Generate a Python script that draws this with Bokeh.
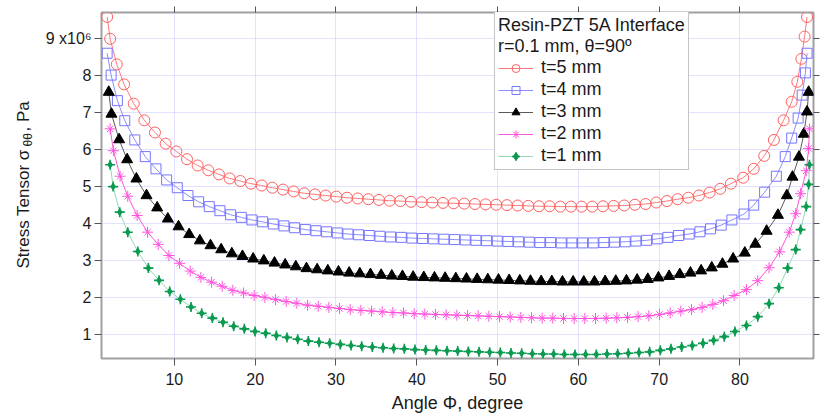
import math
from bokeh.plotting import figure
from bokeh.layouts import row
from bokeh.models import Legend, LegendItem, LinearAxis, FixedTicker, Range1d
from bokeh.core.properties import value
from bokeh.embed import file_html
from bokeh.resources import INLINE

# ---------------- data (stress in units of 1e6 Pa) ----------------
phi_t5 = [1.68, 2.05, 2.87, 3.78, 4.97,
          6.28, 7.60, 8.92, 10.24, 11.56, 12.88, 14.20, 15.52, 16.84, 18.16,
          19.48, 20.80, 22.12, 23.44, 24.76, 26.08, 27.40, 28.72, 30.04, 31.36,
          32.68, 34.00, 35.32, 36.64, 37.96, 39.28, 40.60, 41.92, 43.24, 44.56,
          45.88, 47.20, 48.52, 49.84, 51.16, 52.48, 53.80, 55.12, 56.44, 57.76,
          59.08, 60.40, 61.72, 63.04, 64.36, 65.68, 67.00, 68.32, 69.64, 70.96,
          72.28, 73.60, 74.92, 76.24, 77.56, 78.88,
          80.4, 81.7, 83.0, 84.2, 85.4, 86.4, 87.1, 87.6, 88.0, 88.3]
sig_t5 = [9.57, 8.98, 8.29, 7.75, 7.23,
          6.78, 6.45, 6.15, 5.94, 5.73, 5.56, 5.43, 5.32, 5.21, 5.14,
          5.07, 5.02, 4.96, 4.91, 4.86, 4.81, 4.78, 4.75, 4.72, 4.69,
          4.67, 4.65, 4.63, 4.61, 4.60, 4.58, 4.57, 4.56, 4.55, 4.54,
          4.53, 4.52, 4.51, 4.50, 4.49, 4.48, 4.47, 4.46, 4.46, 4.45,
          4.45, 4.45, 4.45, 4.46, 4.47, 4.48, 4.50, 4.52, 4.56, 4.60,
          4.65, 4.69, 4.75, 4.83, 4.93, 5.07,
          5.23, 5.47, 5.82, 6.25, 6.78, 7.28, 7.82, 8.44, 9.04, 9.57]

phi_t4 = [1.68, 2.17, 2.95, 3.86, 5.10,
          6.40, 7.72, 9.04, 10.36, 11.68, 13.00, 14.32, 15.64, 16.96, 18.28,
          19.60, 20.92, 22.24, 23.56, 24.88, 26.20, 27.52, 28.84, 30.16, 31.48,
          32.80, 34.12, 35.44, 36.76, 38.08, 39.40, 40.72, 42.04, 43.36, 44.68,
          46.00, 47.32, 48.64, 49.96, 51.28, 52.60, 53.92, 55.24, 56.56, 57.88,
          59.20, 60.52, 61.84, 63.16, 64.48, 65.80, 67.12, 68.44, 69.76, 71.08,
          72.40, 73.72, 75.04, 76.36, 77.68, 79.00,
          80.5, 81.7, 83.05, 84.5, 85.6, 86.4, 87.2, 87.7, 88.1, 88.3]
sig_t4 = [8.59, 8.00, 7.31, 6.77, 6.25,
          5.80, 5.47, 5.17, 4.96, 4.75, 4.58, 4.45, 4.34, 4.23, 4.16,
          4.09, 4.04, 3.98, 3.93, 3.88, 3.83, 3.80, 3.77, 3.74, 3.71,
          3.69, 3.67, 3.65, 3.63, 3.62, 3.60, 3.59, 3.58, 3.57, 3.56,
          3.55, 3.54, 3.53, 3.52, 3.51, 3.50, 3.49, 3.48, 3.48, 3.47,
          3.47, 3.47, 3.47, 3.48, 3.49, 3.50, 3.52, 3.54, 3.58, 3.62,
          3.67, 3.71, 3.77, 3.85, 3.95, 4.09,
          4.25, 4.49, 4.84, 5.27, 5.80, 6.30, 6.84, 7.46, 8.06, 8.59]

phi_t3 = [1.88, 2.21, 3.16, 4.15, 5.30,
          6.55, 7.87, 9.19, 10.51, 11.83, 13.15, 14.47, 15.79, 17.11, 18.43,
          19.75, 21.07, 22.39, 23.71, 25.03, 26.35, 27.67, 28.99, 30.31, 31.63,
          32.95, 34.27, 35.59, 36.91, 38.23, 39.55, 40.87, 42.19, 43.51, 44.83,
          46.15, 47.47, 48.79, 50.11, 51.43, 52.75, 54.07, 55.39, 56.71, 58.03,
          59.35, 60.67, 61.99, 63.31, 64.63, 65.95, 67.27, 68.59, 69.91, 71.23,
          72.55, 73.87, 75.19, 76.51, 77.83, 79.15,
          80.6, 81.9, 83.3, 84.7, 85.8, 86.5, 87.3, 87.9, 88.3, 88.5]
sig_t3 = [7.54, 6.95, 6.26, 5.72, 5.20,
          4.75, 4.42, 4.12, 3.91, 3.70, 3.53, 3.40, 3.29, 3.18, 3.11,
          3.04, 2.99, 2.93, 2.88, 2.83, 2.78, 2.75, 2.72, 2.69, 2.66,
          2.64, 2.62, 2.60, 2.58, 2.57, 2.55, 2.54, 2.53, 2.52, 2.51,
          2.50, 2.49, 2.48, 2.47, 2.46, 2.45, 2.44, 2.43, 2.43, 2.42,
          2.42, 2.42, 2.42, 2.43, 2.44, 2.45, 2.47, 2.49, 2.53, 2.57,
          2.62, 2.66, 2.72, 2.80, 2.90, 3.04,
          3.20, 3.44, 3.79, 4.22, 4.75, 5.25, 5.79, 6.41, 7.01, 7.54]

phi_t2 = [2.05, 2.46, 3.28, 4.23, 5.39,
          6.68, 8.00, 9.32, 10.64, 11.96, 13.28, 14.60, 15.92, 17.24, 18.56,
          19.88, 21.20, 22.52, 23.84, 25.16, 26.48, 27.80, 29.12, 30.44, 31.76,
          33.08, 34.40, 35.72, 37.04, 38.36, 39.68, 41.00, 42.32, 43.64, 44.96,
          46.28, 47.60, 48.92, 50.24, 51.56, 52.88, 54.20, 55.52, 56.84, 58.16,
          59.48, 60.80, 62.12, 63.44, 64.76, 66.08, 67.40, 68.72, 70.04, 71.36,
          72.68, 74.00, 75.32, 76.64, 77.96, 79.28,
          80.8, 82.2, 83.6, 84.9, 86.1, 86.9, 87.5, 88.2, 88.5, 88.6]
sig_t2 = [6.55, 5.96, 5.27, 4.73, 4.21,
          3.76, 3.43, 3.13, 2.92, 2.71, 2.54, 2.41, 2.30, 2.19, 2.12,
          2.05, 2.00, 1.94, 1.89, 1.84, 1.79, 1.76, 1.73, 1.70, 1.67,
          1.65, 1.63, 1.61, 1.59, 1.58, 1.56, 1.55, 1.54, 1.53, 1.52,
          1.51, 1.50, 1.49, 1.48, 1.47, 1.46, 1.45, 1.44, 1.44, 1.43,
          1.43, 1.43, 1.43, 1.44, 1.45, 1.46, 1.48, 1.50, 1.54, 1.58,
          1.63, 1.67, 1.73, 1.81, 1.91, 2.05,
          2.21, 2.45, 2.80, 3.23, 3.76, 4.26, 4.80, 5.42, 6.02, 6.55]

phi_t1 = [2.05, 2.42, 3.24, 4.23, 5.47,
          6.78, 8.10, 9.42, 10.74, 12.06, 13.38, 14.70, 16.02, 17.34, 18.66,
          19.98, 21.30, 22.62, 23.94, 25.26, 26.58, 27.90, 29.22, 30.54, 31.86,
          33.18, 34.50, 35.82, 37.14, 38.46, 39.78, 41.10, 42.42, 43.74, 45.06,
          46.38, 47.70, 49.02, 50.34, 51.66, 52.98, 54.30, 55.62, 56.94, 58.26,
          59.58, 60.90, 62.22, 63.54, 64.86, 66.18, 67.50, 68.82, 70.14, 71.46,
          72.78, 74.10, 75.42, 76.74, 78.06, 79.38,
          80.8, 82.2, 83.6, 84.8, 85.9, 86.9, 87.5, 88.2, 88.5, 88.6]
sig_t1 = [5.58, 4.99, 4.30, 3.76, 3.24,
          2.79, 2.46, 2.16, 1.95, 1.74, 1.57, 1.44, 1.33, 1.22, 1.15,
          1.08, 1.03, 0.97, 0.92, 0.87, 0.82, 0.79, 0.76, 0.73, 0.70,
          0.68, 0.66, 0.64, 0.62, 0.61, 0.59, 0.58, 0.57, 0.56, 0.55,
          0.54, 0.53, 0.52, 0.51, 0.50, 0.49, 0.48, 0.47, 0.47, 0.46,
          0.46, 0.46, 0.46, 0.47, 0.48, 0.49, 0.51, 0.53, 0.57, 0.61,
          0.66, 0.70, 0.76, 0.84, 0.94, 1.08,
          1.24, 1.48, 1.83, 2.26, 2.79, 3.29, 3.83, 4.45, 5.05, 5.58]

series_labels = ["t=5 mm", "t=4 mm", "t=3 mm", "t=2 mm", "t=1 mm"]
x_ticks = [10, 20, 30, 40, 50, 60, 70, 80]
y_ticks = [1, 2, 3, 4, 5, 6, 7, 8, 9]
y_tick_labels = ["1", "2", "3", "4", "5", "6", "7", "8", "9 x10\u2076"]
legend_title = "Resin-PZT 5A Interface\nr=0.1 mm, \u03b8=90\u00ba"
x_title = "Angle \u03a6, degree"
y_title_parts = ["Stress Tensor \u03c3", "\u03b8\u03b8", ", Pa"]

FONT = "Liberation Sans"
LEFT_W = 42
FRAME_TOP, FRAME_BOTTOM, PAGE_H = 12, 358, 416

# ---------------- y-axis title strip (σ with θθ subscript) ----------------
# its frame is aligned with the main plot's frame; the y scale is page pixels counted from the bottom
q = figure(width=LEFT_W, height=PAGE_H, output_backend="svg", toolbar_location=None,
           x_range=Range1d(0, LEFT_W), y_range=Range1d(PAGE_H - FRAME_BOTTOM, PAGE_H - FRAME_TOP),
           x_axis_location=None, y_axis_location=None, min_border=0,
           min_border_top=FRAME_TOP, min_border_bottom=PAGE_H - FRAME_BOTTOM)
q.outline_line_color = None
q.xgrid.visible = False
q.ygrid.visible = False
q.background_fill_color = "white"
q.border_fill_color = "white"
for txt, xx, yy, fs in ((y_title_parts[0], 23, 148, "17px"),
                        (y_title_parts[1], 27, 270, "12px"),
                        (y_title_parts[2], 23, 285, "17px")):
    q.text(x=[xx], y=[yy], text=[txt], angle=math.pi / 2,
           text_font=value(FONT), text_font_size=value(fs), text_color="#1a1a1a",
           text_align="left", text_baseline="alphabetic")

# ---------------- main plot ----------------
p = figure(width=834 - LEFT_W, height=PAGE_H, output_backend="svg", toolbar_location=None,
           x_range=Range1d(0.98, 89.1), y_range=Range1d(0.35, 9.69),
           min_border_left=100 - LEFT_W, min_border_right=21, min_border_top=FRAME_TOP,
           min_border_bottom=PAGE_H - FRAME_BOTTOM)
p.background_fill_color = "white"
p.border_fill_color = "white"
p.outline_line_color = "#a0a0a0"
p.outline_line_width = 2

for g in (p.xgrid, p.ygrid):
    g.grid_line_color = "#c4c4ff"
    g.grid_line_dash = "1 1"
    g.grid_line_width = 1
p.xgrid.ticker = FixedTicker(ticks=x_ticks)
p.ygrid.ticker = FixedTicker(ticks=y_ticks)

xa = p.xaxis[0]
xa.ticker = FixedTicker(ticks=x_ticks)
ya = p.yaxis[0]
ya.ticker = FixedTicker(ticks=y_ticks)
ya.major_label_overrides = {t: s for t, s in zip(y_ticks, y_tick_labels)}
for ax in (xa, ya):
    ax.axis_line_color = None
    ax.major_tick_in = 0
    ax.major_tick_out = 7
    ax.major_tick_line_color = "#555555"
    ax.minor_tick_out = 0
    ax.minor_tick_in = 0
    ax.major_label_text_font = FONT
    ax.major_label_text_font_size = "16px"
    ax.major_label_text_color = "#1a1a1a"
xa.major_label_standoff = 7
ya.major_label_standoff = 3
xa.axis_label = x_title
xa.axis_label_text_font = FONT
xa.axis_label_text_font_size = "18px"
xa.axis_label_text_font_style = "normal"
xa.axis_label_text_color = "#1a1a1a"
xa.axis_label_standoff = 5

for loc, ticks in (("above", x_ticks), ("right", y_ticks)):
    ax = LinearAxis(ticker=FixedTicker(ticks=ticks))
    ax.axis_line_color = None
    ax.major_tick_in = 0
    ax.major_tick_out = 6
    ax.major_tick_line_color = "#555555"
    ax.minor_tick_out = 0
    ax.minor_tick_in = 0
    ax.major_label_overrides = {t: "" for t in ticks}
    ax.major_label_standoff = 0
    p.add_layout(ax, loc)

GREEN = "#0a9a50"
styles = [
    dict(x=phi_t5, y=sig_t5, line="#ff7878",
         markers=[dict(marker="circle", size=11, fill_color=None, line_color="#ff6060", line_width=1)]),
    dict(x=phi_t4, y=sig_t4, line="#8c8cff",
         markers=[dict(marker="square", size=10, fill_color=None, line_color="#7676ff", line_width=1)]),
    dict(x=phi_t3, y=sig_t3, line="#5a5a5a",
         markers=[dict(marker="triangle", size=11, fill_color="black", line_color="black", line_width=1)]),
    dict(x=phi_t2, y=sig_t2, line="#ff55dc",
         markers=[dict(marker="cross", size=11, fill_color=None, line_color="#ff55dc", line_width=1),
                  dict(marker="x", size=9, fill_color=None, line_color="#ff55dc", line_width=1)]),
    dict(x=phi_t1, y=sig_t1, line="#94dab4",
         markers=[dict(marker="diamond", size=7, fill_color=GREEN, line_color=GREEN, line_width=1),
                  dict(marker="cross", size=10, fill_color=None, line_color=GREEN, line_width=1.6)]),
]

items = []
for lab, st in zip(series_labels, styles):
    rs = [p.line(st["x"], st["y"], line_color=st["line"], line_width=1)]
    for m in st["markers"]:
        rs.append(p.scatter(st["x"], st["y"], marker=m["marker"], size=m["size"],
                            fill_color=m["fill_color"], line_color=m["line_color"],
                            line_width=m["line_width"]))
    items.append(LegendItem(label=lab, renderers=rs))

legend = Legend(items=items, location=(393, 188))
legend.title = legend_title
legend.title_text_font = FONT
legend.title_text_font_size = "18px"
legend.title_text_font_style = "normal"
legend.title_text_color = "#1a1a1a"
legend.title_standoff = 0
legend.label_text_font = FONT
legend.label_text_font_size = "18px"
legend.label_text_color = "#1a1a1a"
legend.glyph_width = 35
legend.glyph_height = 20
legend.label_height = 20
legend.label_standoff = 8
legend.spacing = 1
legend.padding = 3
legend.margin = 0
legend.border_line_color = "#8a8a8a"
legend.border_line_width = 1
legend.background_fill_alpha = 1.0
p.add_layout(legend, "center")

open("out.html", "w").write(file_html(row(q, p), INLINE))
